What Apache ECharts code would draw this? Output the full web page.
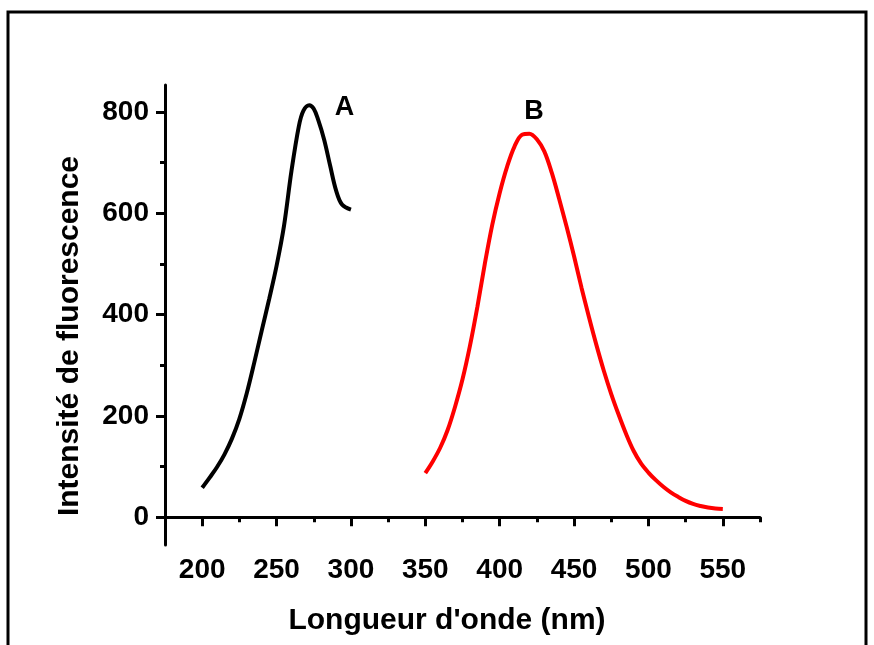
<!DOCTYPE html>
<html>
<head>
<meta charset="utf-8">
<script src="https://cdn.jsdelivr.net/npm/echarts@6/dist/echarts.min.js"></script>
<style>html,body{margin:0;padding:0;background:#fff;}#c{width:874px;height:645px;}</style>
</head>
<body>
<div id="c"></div>
<script>
// Data
const waveA = [200,205,210,215,220,225,230,235,240,245,250,255,260,265,268,272,275,278,282,286,290,294,300];
const intA  = [58,78,99,124,155,194,245,305,368,430,496,575,683,772,802,813,806,784,745,694,645,617,607];
const waveB = [350,355,360,365,370,375,380,385,390,395,400,405,410,415,420,425,430,435,440,445,450,455,460,465,470,475,480,485,490,495,500,505,510,515,520,525,530,535,540,545,550];
const intB  = [87,110,137,172,218,272,338,415,500,577,640,692,732,755,757,746,722,680,628,573,515,453,395,340,289,243,202,164,131,106,88,73,60,49,40,32,26,22,19,17,16];
const xMajor = [200,250,300,350,400,450,500,550];
const xMinor = [175,225,275,325,375,425,475,525,575];
const yMajor = [0,200,400,600,800];
const yMinor = [100,300,500,700];
const curveLabels = ['A','B'];
const curveLabelPos = [[295.6,808],[423,800]];
const xTitle = "Longueur d'onde (nm)";
const yTitle = "Intensité de fluorescence";

const FONT = 'Liberation Sans';
const chart = echarts.init(document.getElementById('c'), null, {renderer:'canvas'});
const xRange = {min:175, max:575};
const yRange = {min:-55, max:853};
const axisCommonX = {type:'value', min:xRange.min, max:xRange.max, splitLine:{show:false}};
const axisCommonY = {type:'value', min:yRange.min, max:yRange.max, splitLine:{show:false}};

chart.setOption({
  animation:false,
  backgroundColor:'#fff',
  grid:{left:165, right:114, top:85, bottom:100, outerBoundsMode:'none'},
  xAxis:[
    Object.assign({}, axisCommonX, {
      position:'bottom',
      axisLine:{show:true, lineStyle:{color:'#000', width:3}},
      axisTick:{show:true, customValues:xMajor, length:9, lineStyle:{color:'#000', width:3}},
      axisLabel:{show:true, customValues:xMajor, color:'#000', fontSize:28, fontWeight:'bold', fontFamily:FONT, margin:11}
    }),
    Object.assign({}, axisCommonX, {
      position:'bottom', offset:0,
      axisLine:{show:false},
      axisTick:{show:true, customValues:xMinor, length:5, lineStyle:{color:'#000', width:3}},
      axisLabel:{show:false}
    })
  ],
  yAxis:[
    Object.assign({}, axisCommonY, {
      position:'left',
      axisLine:{show:true, lineStyle:{color:'#000', width:3}},
      axisTick:{show:true, customValues:yMajor, length:9, lineStyle:{color:'#000', width:3}},
      axisLabel:{show:true, customValues:yMajor, color:'#000', fontSize:28, fontWeight:'bold', fontFamily:FONT, margin:16}
    }),
    Object.assign({}, axisCommonY, {
      position:'left', offset:0,
      axisLine:{show:false},
      axisTick:{show:true, customValues:yMinor, length:5, lineStyle:{color:'#000', width:3}},
      axisLabel:{show:false}
    })
  ],
  series:[
    {type:'line', xAxisIndex:0, yAxisIndex:0, data:waveA.map((w,i)=>[w,intA[i]]), showSymbol:false, smooth:0.35,
     lineStyle:{color:'#000', width:4}},
    {type:'line', xAxisIndex:0, yAxisIndex:0, data:waveB.map((w,i)=>[w,intB[i]]), showSymbol:false, smooth:0.35,
     lineStyle:{color:'#ff0000', width:4}},
    {type:'scatter', xAxisIndex:0, yAxisIndex:0, symbolSize:0, itemStyle:{color:'#000', opacity:1},
     data:curveLabels.map((n,i)=>({name:n, value:curveLabelPos[i]})),
     label:{show:true, position:'inside', formatter:'{b}', color:'#000', opacity:1, textBorderWidth:0, fontSize:27, fontWeight:'bold', fontFamily:FONT}}
  ],
  graphic:[
    {type:'rect', shape:{x:8, y:12, width:858, height:700}, style:{fill:'none', stroke:'#000', lineWidth:3}, silent:true},
    {type:'text', x:447, y:621, style:{text:xTitle, fill:'#000', font:'bold 30px "Liberation Sans"', textAlign:'center', textVerticalAlign:'middle'}},
    {type:'text', x:70, y:336, rotation:Math.PI/2, style:{text:yTitle, fill:'#000', font:'bold 30px "Liberation Sans"', textAlign:'center', textVerticalAlign:'middle'}}
  ]
});
</script>
</body>
</html>
